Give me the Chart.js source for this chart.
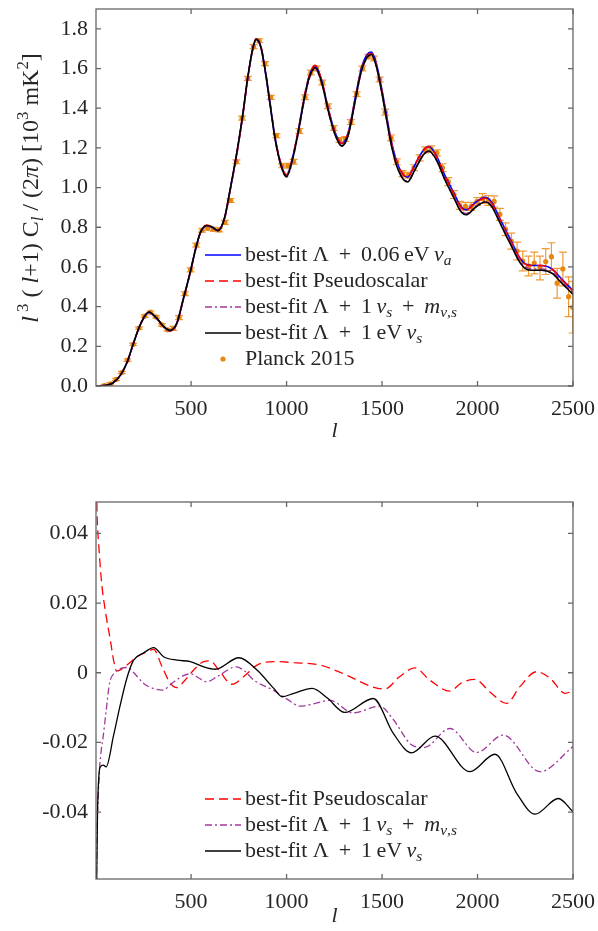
<!DOCTYPE html>
<html>
<head>
<meta charset="utf-8">
<script src="https://cdn.jsdelivr.net/npm/chart.js@4.4.0/dist/chart.umd.min.js"></script>
<style>
  body { margin: 0; background: #fff; width: 598px; height: 931px; position: relative; overflow: hidden; }
  .box { position: absolute; left: 0; width: 598px; }
  #topBox { top: 0; height: 450px; }
  #botBox { top: 470px; height: 461px; }
</style>
</head>
<body>
<div id="topBox" class="box"><canvas id="top"></canvas></div>
<div id="botBox" class="box"><canvas id="bottom"></canvas></div>
<script>
// multipole grid for the model curves (upper panel)
const ellTheory = [2, 30, 60, 90, 130, 165, 200, 235, 278, 320,
  355, 390, 425, 460, 495, 525, 550, 583, 610, 640,
  675, 705, 740, 770, 795, 820, 840, 865, 890, 915,
  940, 970, 1000, 1030, 1060, 1095, 1120, 1150, 1185, 1220,
  1255, 1290, 1325, 1360, 1390, 1420, 1445, 1470, 1500, 1525,
  1550, 1585, 1633, 1670, 1715, 1745, 1785, 1830, 1875, 1910,
  1940, 1990, 2040, 2075, 2110, 2145, 2180, 2215, 2250, 2285,
  2335, 2390, 2440, 2500];

// best-fit Λ + 0.06 eV ν_a
const blueTop = [0, 0.001, 0.005, 0.015, 0.055, 0.12, 0.22, 0.31, 0.371, 0.34,
  0.30, 0.279, 0.315, 0.44, 0.57, 0.695, 0.775, 0.808, 0.80, 0.783,
  0.845, 0.99, 1.175, 1.36, 1.54, 1.685, 1.746, 1.71, 1.58, 1.414,
  1.25, 1.12, 1.062, 1.145, 1.28, 1.465, 1.565, 1.612, 1.535, 1.39,
  1.275, 1.222, 1.285, 1.455, 1.595, 1.668, 1.683, 1.625, 1.49, 1.355,
  1.228, 1.11, 1.052, 1.11, 1.187, 1.207, 1.16, 1.06, 0.975, 0.908,
  0.888, 0.926, 0.951, 0.925, 0.858, 0.79, 0.724, 0.656, 0.615, 0.607,
  0.607, 0.59, 0.54, 0.481];

// best-fit Pseudoscalar
const redTop = [0, 0.001, 0.005, 0.015, 0.055, 0.120, 0.221, 0.312, 0.373, 0.342,
  0.300, 0.278, 0.314, 0.439, 0.570, 0.696, 0.777, 0.811, 0.802, 0.784,
  0.844, 0.987, 1.172, 1.358, 1.540, 1.687, 1.749, 1.714, 1.584, 1.418,
  1.254, 1.124, 1.065, 1.148, 1.284, 1.469, 1.569, 1.616, 1.538, 1.392,
  1.276, 1.222, 1.284, 1.452, 1.590, 1.662, 1.676, 1.618, 1.483, 1.349,
  1.224, 1.108, 1.053, 1.112, 1.187, 1.205, 1.156, 1.055, 0.970, 0.905,
  0.886, 0.924, 0.947, 0.920, 0.852, 0.783, 0.719, 0.654, 0.614, 0.607,
  0.607, 0.589, 0.537, 0.479];

// best-fit Λ + 1 ν_s + m_ν,s
const purpleTop = [0, 0.001, 0.005, 0.015, 0.055, 0.120, 0.220, 0.309, 0.370, 0.338,
  0.299, 0.278, 0.315, 0.440, 0.570, 0.694, 0.774, 0.806, 0.798, 0.782,
  0.845, 0.992, 1.177, 1.361, 1.539, 1.682, 1.743, 1.705, 1.574, 1.408,
  1.243, 1.112, 1.054, 1.135, 1.268, 1.451, 1.551, 1.598, 1.522, 1.379,
  1.264, 1.209, 1.271, 1.438, 1.578, 1.651, 1.667, 1.609, 1.474, 1.339,
  1.212, 1.092, 1.032, 1.087, 1.162, 1.182, 1.138, 1.042, 0.959, 0.891,
  0.869, 0.905, 0.932, 0.907, 0.843, 0.775, 0.709, 0.641, 0.599, 0.590,
  0.590, 0.575, 0.527, 0.471];

// best-fit Λ + 1 eV ν_s
const blackTop = [0, 0.001, 0.005, 0.015, 0.055, 0.120, 0.221, 0.312, 0.373, 0.342,
  0.301, 0.280, 0.316, 0.442, 0.572, 0.697, 0.777, 0.809, 0.801, 0.784,
  0.847, 0.994, 1.180, 1.365, 1.545, 1.688, 1.748, 1.710, 1.578, 1.409,
  1.244, 1.113, 1.055, 1.138, 1.273, 1.458, 1.558, 1.604, 1.526, 1.380,
  1.264, 1.209, 1.271, 1.441, 1.581, 1.655, 1.671, 1.611, 1.473, 1.336,
  1.208, 1.088, 1.028, 1.085, 1.163, 1.184, 1.139, 1.037, 0.951, 0.883,
  0.863, 0.901, 0.927, 0.903, 0.837, 0.767, 0.701, 0.633, 0.592, 0.583,
  0.583, 0.568, 0.520, 0.462];

// Planck 2015 binned points
const planckEll = [47, 77, 107, 137, 167, 197, 227, 257, 287, 317,
  347, 377, 407, 437, 467, 497, 527, 557, 587, 617,
  647, 677, 707, 737, 767, 797, 827, 857, 887, 917,
  947, 977, 1007, 1037, 1067, 1097, 1127, 1157, 1187, 1217,
  1247, 1277, 1307, 1337, 1367, 1397, 1427, 1457, 1487, 1517,
  1547, 1577, 1607, 1637, 1667, 1697, 1727, 1757, 1787, 1817,
  1847, 1877, 1907, 1937, 1967, 1997, 2027, 2057, 2087, 2117,
  2147, 2177, 2207, 2237, 2267, 2297, 2327, 2357, 2387, 2417,
  2447, 2477, 2498];
const planckVal = [0.002, 0.011, 0.033, 0.068, 0.13, 0.21, 0.292, 0.352, 0.372, 0.348,
  0.308, 0.283, 0.29, 0.345, 0.465, 0.585, 0.71, 0.785, 0.795, 0.79,
  0.787, 0.825, 0.935, 1.13, 1.35, 1.55, 1.71, 1.74, 1.625, 1.455,
  1.262, 1.11, 1.11, 1.13, 1.285, 1.455, 1.58, 1.6, 1.53, 1.41,
  1.30, 1.24, 1.245, 1.33, 1.47, 1.6, 1.66, 1.65, 1.545, 1.38,
  1.25, 1.13, 1.07, 1.062, 1.10, 1.15, 1.19, 1.195, 1.175, 1.10,
  1.03, 0.965, 0.91, 0.905, 0.905, 0.93, 0.945, 0.935, 0.93, 0.865,
  0.79, 0.73, 0.68, 0.63, 0.605, 0.62, 0.595, 0.627, 0.652, 0.518,
  0.59, 0.45, 0.397];
const planckErr = [0.006, 0.006, 0.006, 0.006, 0.006, 0.006, 0.006, 0.006, 0.006, 0.006,
  0.006, 0.006, 0.01, 0.01, 0.01, 0.01, 0.01, 0.01, 0.01, 0.01,
  0.01, 0.01, 0.01, 0.01, 0.01, 0.01, 0.01, 0.01, 0.01, 0.01,
  0.01, 0.01, 0.012, 0.012, 0.012, 0.012, 0.012, 0.012, 0.012, 0.012,
  0.012, 0.012, 0.012, 0.012, 0.012, 0.012, 0.012, 0.012, 0.012, 0.015,
  0.015, 0.015, 0.015, 0.015, 0.015, 0.015, 0.015, 0.015, 0.015, 0.02,
  0.02, 0.02, 0.02, 0.02, 0.02, 0.02, 0.025, 0.025, 0.028, 0.03,
  0.032, 0.04, 0.045, 0.05, 0.05, 0.055, 0.06, 0.065, 0.07, 0.075,
  0.085, 0.1, 0.13];

// lower panel: relative differences
const redDiffEll = [2, 7, 10, 16, 25, 33, 42, 59, 77, 94,
  110, 130, 164, 217, 269, 304, 348, 391, 426, 461,
  514, 566, 601, 645, 714, 776, 845, 933, 1038, 1178,
  1250, 1331, 1436, 1514, 1593, 1671, 1750, 1855, 1916, 1986,
  2065, 2152, 2222, 2310, 2380, 2459, 2500];
const redDiff = [0.065, 0.047, 0.042, 0.037, 0.030, 0.025, 0.021, 0.015, 0.0094, 0.0036,
  0.0005, 0.0008, 0.0022, 0.0046, 0.006, 0.0067, 0.0017, -0.003, -0.0043, -0.0026,
  0.0008, 0.0032, 0.0034, 0.0008, -0.0033, -0.0011, 0.0022, 0.0032, 0.0029, 0.0022,
  0.0008, -0.0011, -0.0038, -0.0047, -0.0011, 0.0014, -0.0021, -0.0053, -0.0029, -0.0019,
  -0.0055, -0.0088, -0.004, 0.0003, -0.0016, -0.0059, -0.0052];

const purpleDiffEll = [2, 8, 14, 20, 30, 38, 55, 73, 100, 130,
  168, 200, 250, 300, 352, 400, 466, 499, 540, 580,
  640, 737, 780, 828, 930, 1000, 1073, 1150, 1226, 1348,
  1488, 1560, 1650, 1720, 1855, 1995, 2135, 2327, 2500];
const purpleDiff = [-0.075, -0.045, -0.035, -0.028, -0.022, -0.019, -0.011, -0.003, 0.0, 0.0012,
  0.0015, 0.0, -0.003, -0.0045, -0.005, -0.003, -0.0007, -0.0003, -0.0015, -0.0026,
  -0.001, 0.0017, 0.0005, -0.0021, -0.005, -0.0075, -0.0096, -0.0088, -0.0079, -0.0115,
  -0.0096, -0.0135, -0.0205, -0.0215, -0.016, -0.0229, -0.0179, -0.0284, -0.0212];

const blackDiffEll = [2, 10, 18, 25, 40, 55, 94, 130, 164, 199,
  252, 304, 356, 426, 496, 566, 627, 750, 845, 933,
  977, 1038, 1134, 1212, 1305, 1454, 1559, 1654, 1777, 1960,
  2091, 2205, 2301, 2423, 2500];
const blackDiff = [-0.075, -0.04, -0.029, -0.027, -0.0265, -0.027, -0.018, -0.009, -0.0015, 0.0036,
  0.0057, 0.0072, 0.0046, 0.0036, 0.0032, 0.0017, 0.001, 0.0043, 0.0008, -0.0045,
  -0.0069, -0.0059, -0.0045, -0.0072, -0.0114, -0.0074, -0.0174, -0.023, -0.0182, -0.0284,
  -0.0234, -0.0346, -0.0406, -0.0361, -0.0399];

const xTicks = [500, 1000, 1500, 2000, 2500];
const topYTicks = [0, 0.2, 0.4, 0.6, 0.8, 1.0, 1.2, 1.4, 1.6, 1.8];
const bottomYTicks = [-0.04, -0.02, 0, 0.02, 0.04];

// legend / axis labels (rich text: i = italic, sub / sup)
const labelAxion = [{t: 'best-fit Λ\u2009 + \u20090.06\u2009eV\u2009'}, {t: 'ν', i: 1}, {t: 'a', i: 1, sub: 1}];
const labelPseudo = [{t: 'best-fit Pseudoscalar'}];
const labelSterileM = [{t: 'best-fit Λ\u2009 + \u20091\u2009'}, {t: 'ν', i: 1}, {t: 's', i: 1, sub: 1},
  {t: '\u2009 + \u2009'}, {t: 'm', i: 1}, {t: 'ν,s', i: 1, sub: 1}];
const labelSterile = [{t: 'best-fit Λ\u2009 + \u20091\u2009eV\u2009'}, {t: 'ν', i: 1}, {t: 's', i: 1, sub: 1}];
const labelPlanck = [{t: 'Planck 2015'}];
const yTitleTop = [{t: 'l', i: 1}, {t: ' 3', sup: 1}, {t: ' ( '}, {t: 'l', i: 1}, {t: '+1) C'}, {t: 'l', i: 1, sub: 1},
  {t: ' / (2'}, {t: 'π', i: 1}, {t: ') [10'}, {t: '3', sup: 1}, {t: ' mK'}, {t: '2', sup: 1}, {t: ']'}];

const SERIF = '"Liberation Serif", "Times New Roman", serif';
const TEXT = '#262626';
const ORANGE = '#E8870E';
const PURPLE = '#A0399C';
Chart.defaults.font.family = SERIF;
Chart.defaults.color = TEXT;

function zip(xs, ys) {
  return xs.map((x, i) => ({x: x, y: ys[i]}));
}

function segFont(s, size) {
  const fs = (s.sub || s.sup) ? size * 0.7 : size;
  return (s.i ? 'italic ' : '') + fs + 'px ' + SERIF;
}

function richWidth(ctx, segs, size) {
  let w = 0;
  for (const s of segs) {
    ctx.font = segFont(s, size);
    w += ctx.measureText(s.t).width;
  }
  return w;
}

function drawRich(ctx, segs, x, y, size) {
  let cx = x;
  ctx.textBaseline = 'alphabetic';
  ctx.textAlign = 'left';
  for (const s of segs) {
    ctx.font = segFont(s, size);
    const dy = s.sub ? size * 0.2 : (s.sup ? -size * 0.4 : 0);
    ctx.fillText(s.t, cx, y + dy);
    cx += ctx.measureText(s.t).width;
  }
}

// box round the plot with inward ticks on all sides
const frame = {
  id: 'frame',
  afterDraw(chart) {
    const {ctx, chartArea: a, scales} = chart;
    ctx.save();
    ctx.strokeStyle = '#666';
    ctx.lineWidth = 1.3;
    ctx.strokeRect(a.left, a.top, a.right - a.left, a.bottom - a.top);
    ctx.beginPath();
    for (const v of xTicks) {
      const p = scales.x.getPixelForValue(v);
      ctx.moveTo(p, a.bottom); ctx.lineTo(p, a.bottom - 5);
      ctx.moveTo(p, a.top); ctx.lineTo(p, a.top + 5);
    }
    for (const t of scales.y.ticks) {
      const p = scales.y.getPixelForValue(t.value);
      ctx.moveTo(a.left, p); ctx.lineTo(a.left + 5, p);
      ctx.moveTo(a.right, p); ctx.lineTo(a.right - 5, p);
    }
    ctx.stroke();
    ctx.restore();
  }
};

function makeErrorBars(dsIndex, errs) {
  return {
    id: 'errorBars',
    beforeDatasetsDraw(chart) {
      const {ctx, chartArea: a, scales} = chart;
      const pts = chart.data.datasets[dsIndex].data;
      ctx.save();
      ctx.beginPath();
      ctx.rect(a.left, a.top, a.right - a.left, a.bottom - a.top);
      ctx.clip();
      ctx.strokeStyle = '#EE9A36';
      ctx.lineWidth = 1.2;
      ctx.beginPath();
      pts.forEach((p, i) => {
        const x = scales.x.getPixelForValue(p.x);
        const y1 = scales.y.getPixelForValue(p.y - errs[i]);
        const y2 = scales.y.getPixelForValue(p.y + errs[i]);
        ctx.moveTo(x, y1); ctx.lineTo(x, y2);
        ctx.moveTo(x - 4, y1); ctx.lineTo(x + 4, y1);
        ctx.moveTo(x - 4, y2); ctx.lineTo(x + 4, y2);
      });
      ctx.stroke();
      ctx.restore();
    }
  };
}

function makeLegend(items, x, y0, dy) {
  return {
    id: 'richLegend',
    afterDraw(chart) {
      const ctx = chart.ctx;
      items.forEach((it, k) => {
        const ds = chart.data.datasets[it.ds];
        const y = y0 + k * dy;
        ctx.save();
        if (ds.showLine === false) {
          ctx.fillStyle = ds.pointBackgroundColor;
          ctx.beginPath();
          ctx.arc(x + 18, y, 2.6, 0, Math.PI * 2);
          ctx.fill();
        } else {
          ctx.strokeStyle = ds.borderColor;
          ctx.lineWidth = 1.3;
          ctx.setLineDash(ds.borderDash || []);
          ctx.beginPath();
          ctx.moveTo(x, y); ctx.lineTo(x + 36, y);
          ctx.stroke();
        }
        ctx.fillStyle = TEXT;
        drawRich(ctx, it.text, x + 40, y + 6, 22);
        ctx.restore();
      });
    }
  };
}

const yTitle = {
  id: 'yTitle',
  afterDraw(chart) {
    const ctx = chart.ctx;
    ctx.save();
    ctx.fillStyle = TEXT;
    ctx.translate(38, 188);
    ctx.rotate(-Math.PI / 2);
    const w = richWidth(ctx, yTitleTop, 24);
    drawRich(ctx, yTitleTop, -w / 2, 0, 24);
    ctx.restore();
  }
};

function scalesFor(o) {
  return {
    x: {
      type: 'linear', min: 2, max: 2500,
      afterBuildTicks: s => { s.ticks = xTicks.map(v => ({value: v})); },
      afterFit: s => { s.height = o.xh; s.paddingLeft = 0; s.paddingRight = 0; },
      grid: {display: false, drawTicks: false},
      border: {display: false},
      ticks: {padding: 10, maxRotation: 0, font: {size: 22}, color: TEXT, callback: v => String(v)},
      title: {display: true, text: 'l', color: TEXT, font: {size: 22, style: 'italic'}, padding: {top: 0, bottom: o.tpad}}
    },
    y: {
      type: 'linear', min: o.ymin, max: o.ymax,
      afterBuildTicks: s => { s.ticks = o.yt.map(v => ({value: v})); },
      afterFit: s => { s.width = 96; s.paddingTop = 0; s.paddingBottom = 0; },
      grid: {display: false, drawTicks: false},
      border: {display: false},
      ticks: {padding: 8, font: {size: 22}, color: TEXT, callback: o.fmt}
    }
  };
}

function lineSet(label, data, color, dash, width, order) {
  return {
    label: label, data: data, borderColor: color, borderDash: dash, borderWidth: width,
    pointRadius: 0, fill: false, cubicInterpolationMode: 'monotone', order: order
  };
}

const baseOptions = {
  responsive: true,
  maintainAspectRatio: false,
  animation: false,
  events: [],
  plugins: {legend: {display: false}, tooltip: {enabled: false}}
};

// upper panel
new Chart(document.getElementById('top'), {
  type: 'line',
  data: {
    datasets: [
      lineSet('best-fit Λ + 0.06 eV νa', zip(ellTheory, blueTop), '#0000FF', [], 1.6, 4),
      lineSet('best-fit Pseudoscalar', zip(ellTheory, redTop), '#FF0000', [9, 5], 1.6, 3),
      lineSet('best-fit Λ + 1 νs + mν,s', zip(ellTheory, purpleTop), PURPLE, [7, 3, 2, 3], 1.6, 2),
      lineSet('best-fit Λ + 1 eV νs', zip(ellTheory, blackTop), '#000000', [], 1.6, 1),
      {
        label: 'Planck 2015', data: zip(planckEll, planckVal), showLine: false,
        pointRadius: 2.6, pointBackgroundColor: ORANGE, pointBorderWidth: 0, order: 5
      }
    ]
  },
  options: Object.assign({}, baseOptions, {
    layout: {autoPadding: false, padding: {left: 0, right: 25, top: 9, bottom: 0}},
    scales: scalesFor({xh: 64, tpad: 6, ymin: 0, ymax: 1.9, yt: topYTicks, fmt: v => v.toFixed(1)})
  }),
  plugins: [frame, makeErrorBars(4, planckErr), yTitle,
    makeLegend([
      {ds: 0, text: labelAxion},
      {ds: 1, text: labelPseudo},
      {ds: 2, text: labelSterileM},
      {ds: 3, text: labelSterile},
      {ds: 4, text: labelPlanck}
    ], 205, 255, 26)]
});

// lower panel
new Chart(document.getElementById('bottom'), {
  type: 'line',
  data: {
    datasets: [
      lineSet('best-fit Pseudoscalar', zip(redDiffEll, redDiff), '#FF0000', [9, 5], 1.3, 3),
      lineSet('best-fit Λ + 1 νs + mν,s', zip(purpleDiffEll, purpleDiff), PURPLE, [7, 3, 2, 3], 1.3, 2),
      lineSet('best-fit Λ + 1 eV νs', zip(blackDiffEll, blackDiff), '#000000', [], 1.3, 1)
    ]
  },
  options: Object.assign({}, baseOptions, {
    layout: {autoPadding: false, padding: {left: 0, right: 25, top: 32, bottom: 0}},
    scales: scalesFor({xh: 52, tpad: 2, ymin: -0.0592, ymax: 0.049, yt: bottomYTicks,
      fmt: v => (v === 0 ? '0' : v.toFixed(2))})
  }),
  plugins: [frame,
    makeLegend([
      {ds: 0, text: labelPseudo},
      {ds: 1, text: labelSterileM},
      {ds: 2, text: labelSterile}
    ], 205, 329, 26)]
});
</script>
</body>
</html>
